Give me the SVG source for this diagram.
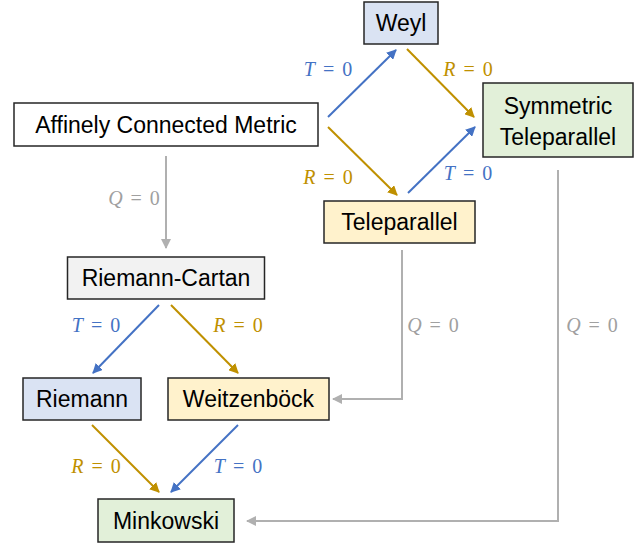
<svg xmlns="http://www.w3.org/2000/svg" width="641" height="544" viewBox="0 0 641 544">
<defs>
<style>
.box{stroke:#262626;stroke-width:1.5}
.lbl{font-family:"Liberation Sans",Arial,sans-serif;font-size:23px;fill:#000;text-anchor:middle}
.m{font-family:"Liberation Serif","Times New Roman",serif;font-size:20px;text-anchor:middle;word-spacing:3px}
.b{fill:#4472c4}.g{fill:#bf9000}.q{fill:#a0a0a0}
.cb{stroke:#4472c4;stroke-width:2;fill:none;marker-end:url(#ab)}
.cg{stroke:#bf9000;stroke-width:2;fill:none;marker-end:url(#ag)}
.cq{stroke:#b0b0b0;stroke-width:2;fill:none;marker-end:url(#aq)}
</style>
<marker id="ab" viewBox="0 0 10 10" refX="9" refY="5" markerWidth="5" markerHeight="5" orient="auto" markerUnits="strokeWidth"><path d="M0,0L10,5L0,10z" fill="#4472c4"/></marker>
<marker id="ag" viewBox="0 0 10 10" refX="9" refY="5" markerWidth="5" markerHeight="5" orient="auto" markerUnits="strokeWidth"><path d="M0,0L10,5L0,10z" fill="#bf9000"/></marker>
<marker id="aq" viewBox="0 0 10 10" refX="9" refY="5" markerWidth="5" markerHeight="5" orient="auto" markerUnits="strokeWidth"><path d="M0,0L10,5L0,10z" fill="#b0b0b0"/></marker>
</defs>
<rect width="641" height="544" fill="#fff"/>
<g id="connectors">
<line class="cb" x1="328" y1="117" x2="396" y2="50"/>
<line class="cg" x1="407" y1="49" x2="474" y2="117"/>
<line class="cg" x1="328" y1="127" x2="397" y2="195"/>
<line class="cb" x1="408" y1="193" x2="475" y2="127"/>
<line class="cq" x1="166" y1="156" x2="166" y2="248"/>
<line class="cb" x1="159" y1="305" x2="93" y2="373"/>
<line class="cg" x1="171" y1="305" x2="238" y2="373"/>
<polyline class="cq" points="402,250 402,399 333,399"/>
<polyline class="cq" points="558,170 558,521 247,521"/>
<line class="cg" x1="92" y1="425" x2="159" y2="492"/>
<line class="cb" x1="238" y1="425" x2="171" y2="492"/>
<text class="m b" x="328" y="76"><tspan font-style="italic">T</tspan> = 0</text>
<text class="m g" x="468" y="76"><tspan font-style="italic">R</tspan> = 0</text>
<text class="m g" x="328" y="184"><tspan font-style="italic">R</tspan> = 0</text>
<text class="m b" x="468" y="180"><tspan font-style="italic">T</tspan> = 0</text>
<text class="m q" x="134" y="205"><tspan font-style="italic">Q</tspan> = 0</text>
<text class="m b" x="96" y="332"><tspan font-style="italic">T</tspan> = 0</text>
<text class="m g" x="238" y="332"><tspan font-style="italic">R</tspan> = 0</text>
<text class="m q" x="433" y="332"><tspan font-style="italic">Q</tspan> = 0</text>
<text class="m q" x="592" y="332"><tspan font-style="italic">Q</tspan> = 0</text>
<text class="m g" x="96" y="473"><tspan font-style="italic">R</tspan> = 0</text>
<text class="m b" x="238" y="473"><tspan font-style="italic">T</tspan> = 0</text>
</g>
<g id="weyl"><rect class="box" x="364" y="2" width="74" height="42" fill="#dae3f3"/><text class="lbl" x="401" y="31">Weyl</text></g>
<g id="affine"><rect class="box" x="14" y="103" width="304" height="43" fill="#fff"/><text class="lbl" x="166" y="133">Affinely Connected Metric</text></g>
<g id="symtele"><rect class="box" x="483" y="83" width="150" height="74" fill="#e2f0d9"/><text class="lbl" x="558" y="114">Symmetric</text><text class="lbl" x="558" y="145">Teleparallel</text></g>
<g id="tele"><rect class="box" x="324" y="201" width="151" height="42" fill="#fff2cc"/><text class="lbl" x="399.5" y="230">Teleparallel</text></g>
<g id="rc"><rect class="box" x="67.5" y="257" width="197" height="42" fill="#f2f2f2"/><text class="lbl" x="166" y="286">Riemann-Cartan</text></g>
<g id="riemann"><rect class="box" x="23" y="378" width="118" height="42" fill="#dae3f3"/><text class="lbl" x="82" y="407">Riemann</text></g>
<g id="weitz"><rect class="box" x="168" y="378" width="161" height="42" fill="#fff2cc"/><text class="lbl" x="248.5" y="407">Weitzenböck</text></g>
<g id="mink"><rect class="box" x="98" y="499" width="136" height="43" fill="#e2f0d9"/><text class="lbl" x="166" y="529">Minkowski</text></g>
</svg>
